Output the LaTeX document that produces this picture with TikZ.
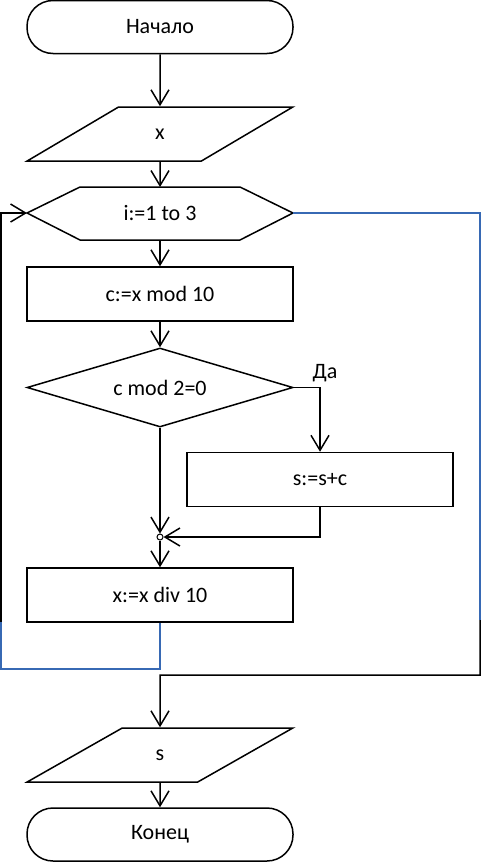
\documentclass[tikz,border=0pt]{standalone}
\usepackage{fontspec}
\setmainfont{Carlito}
\usetikzlibrary{arrows.meta,shapes.geometric}
\definecolor{loopblue}{RGB}{55,105,180}
\begin{document}
\begin{tikzpicture}[x=1pt,y=-1pt,
  font=\fontsize{22}{26}\selectfont,
  line width=1.5pt,
  box/.style={draw, rectangle, minimum width=266pt, minimum height=54pt, inner sep=0pt},
  term/.style={draw, rectangle, rounded corners=26pt, minimum width=266pt, minimum height=53pt, inner sep=0pt},
  io/.style={draw, trapezium, trapezium left angle=45, trapezium right angle=135,
    trapezium stretches=true, minimum width=266pt, minimum height=54pt, inner sep=0pt},
  decide/.style={draw, diamond, aspect=3.37, minimum width=266pt, minimum height=79pt, inner sep=0pt},
  arr/.style={-{Straight Barb[length=15pt,width=18pt,line width=1.5pt]}},
  blueline/.style={draw=loopblue, line width=1.2pt},
  joint/.style={draw, circle, inner sep=0pt, minimum size=6pt, line width=1pt, fill=white}
]
\useasboundingbox (0,0) rectangle (482,862);

% nodes
\node[term] (start) at (160,27) {Начало};
\node[io] (in) at (160,134) {x};
\node (loop) at (160,213) {i:=1 to 3};
\coordinate (loopW) at (27,213);
\coordinate (loopE) at (293,213);
\coordinate (loopN) at (160,187);
\coordinate (loopS) at (160,240);
\draw (loopW) -- (80,187) -- (240,187) -- (loopE) -- (240,240) -- (80,240) -- cycle;
\node[box] (cmod) at (160,294) {c:=x mod 10};
\node[decide] (dia) at (160,387.5) {c mod 2=0};
\node (yes) at (325,373) {Да};
\node[box] (sc) at (320,479.5) {s:=s+c};
\node[joint] (j) at (160,537) {};
\node[box] (xd) at (160,595) {x:=x div 10};
\node[io] (out) at (160,755) {s};
\node[term] (stop) at (160,834.5) {Конец};

% connectors
\draw[arr] (start.south) -- (in.north);
\draw[arr] (in.south) -- (loopN);
\draw[arr] (loopS) -- (cmod.north);
\draw[arr] (cmod.south) -- (dia.north);
\draw[arr] (dia.east) -| (sc.north);
\draw[arr] (dia.south) -- (j.north);
\draw[arr] (sc.south) |- (j.east);
\draw[arr] (j.south) -- (xd.north);

% loop back
\coordinate (lb1) at (160,669);
\coordinate (lb2) at (1,669);
\coordinate (lb3) at (1,622);
\coordinate (lb4) at (1,213);
\draw[blueline] (xd.south) -- (lb1) -- (lb2) -- (lb3);
\draw[arr] (lb3) -- (lb4) -- (loopW);

% loop exit
\coordinate (ex1) at (480,213);
\coordinate (ex2) at (480,620);
\coordinate (ex3) at (480,675);
\coordinate (ex4) at (160,675);
\draw[blueline] (loopE) -- (ex1) -- (ex2);
\draw[arr] (ex2) -- (ex3) -- (ex4) -- (out.north);
\draw[arr] (out.south) -- (stop.north);
\end{tikzpicture}
\end{document}
